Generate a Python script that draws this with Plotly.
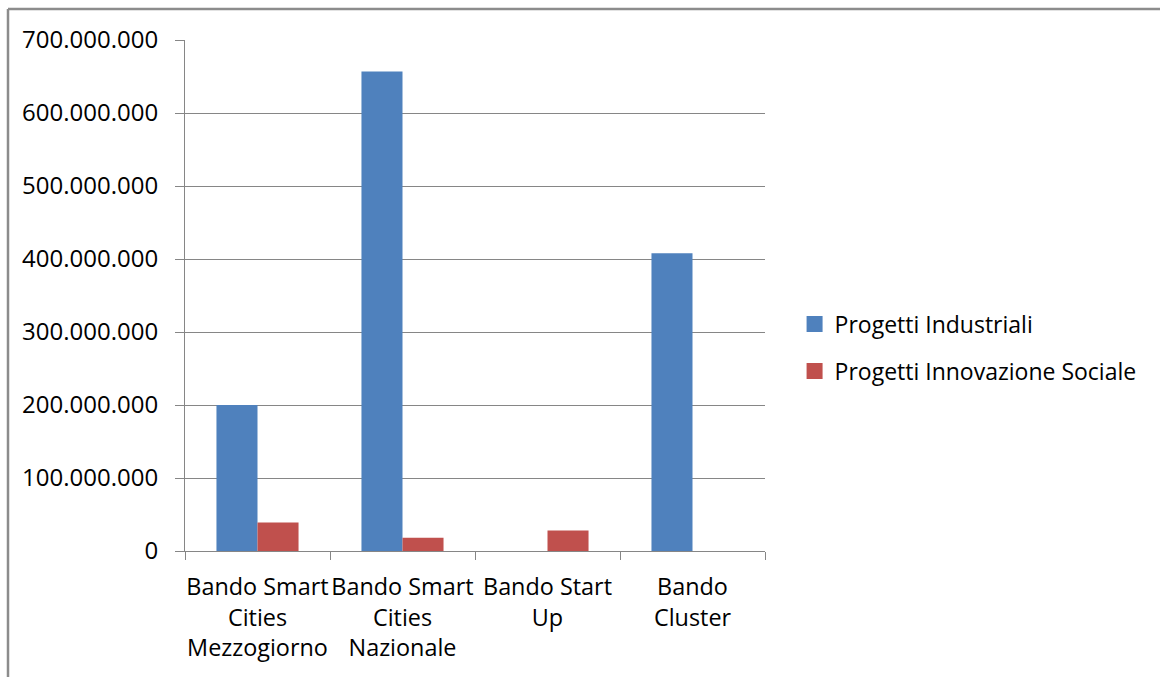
import plotly.graph_objects as go

categories = ["Bando Smart<br>Cities<br>Mezzogiorno", "Bando Smart<br>Cities<br>Nazionale",
              "Bando Start<br>Up", "Bando<br>Cluster"]
industriali = [200000000, 657000000, 0, 408000000]
innovazione = [39000000, 18000000, 28000000, 0]
series_names = ["Progetti Industriali", "Progetti Innovazione Sociale"]
series_colors = ["#4F81BD", "#C0504D"]
y_ticks = [0, 100000000, 200000000, 300000000, 400000000, 500000000, 600000000, 700000000]

FONT = "Open Sans"
fig = go.Figure()
for vals, name, col in zip([industriali, innovazione], series_names, series_colors):
    fig.add_trace(go.Bar(x=categories, y=vals, name=name, showlegend=False,
                         marker=dict(color=col, line=dict(width=0))))
# legend entries with larger square swatches
for i, (name, col) in enumerate(zip(series_names, series_colors)):
    fig.add_trace(go.Scatter(x=[None], y=[None], mode="markers", name=name,
                             legendgroup=str(i),
                             marker=dict(symbol="square", size=16, color=col)))

fig.update_layout(
    width=1160, height=677,
    margin=dict(l=185, r=395, t=40, b=126, autoexpand=False),
    paper_bgcolor="white", plot_bgcolor="white",
    separators=",.",
    barmode="group", bargap=0.434, bargroupgap=0,
    font=dict(family=FONT, size=23, color="#000000"),
    legend=dict(x=1.051, y=0.398, xanchor="left", yanchor="middle",
                font=dict(family=FONT, size=23, color="#000000"),
                tracegroupgap=14, itemwidth=30, itemsizing="trace"),
    showlegend=True,
    xaxis=dict(showline=True, linecolor="#868686", linewidth=1,
               ticks="outside", tickson="boundaries", ticklen=8, tickcolor="#868686",
               showgrid=False, ticklabelstandoff=15, tickangle=0, automargin=False,
               tickfont=dict(family=FONT, size=23.4, color="#000000")),
    yaxis=dict(range=[0, 700000000], tickvals=y_ticks, tickformat=",.0f",
               showline=True, linecolor="#868686", linewidth=1,
               ticks="outside", ticklen=9, tickcolor="#868686",
               showgrid=True, gridcolor="#868686", gridwidth=1,
               zeroline=False, ticklabelstandoff=12, automargin=False,
               tickfont=dict(family=FONT, size=24, color="#000000")),
)

# outer chart frame
fig.add_shape(type="line", xref="paper", yref="paper",
              x0=(8 - 185) / 580, x1=(1170 - 185) / 580,
              y0=(551 - 9) / 511, y1=(551 - 9) / 511,
              line=dict(color="#8C8C8C", width=2.5))
fig.add_shape(type="line", xref="paper", yref="paper",
              x0=(8 - 185) / 580, x1=(8 - 185) / 580,
              y0=(551 - 9) / 511, y1=(551 - 690) / 511,
              line=dict(color="#8C8C8C", width=2.5))

fig.write_html("out.html")
